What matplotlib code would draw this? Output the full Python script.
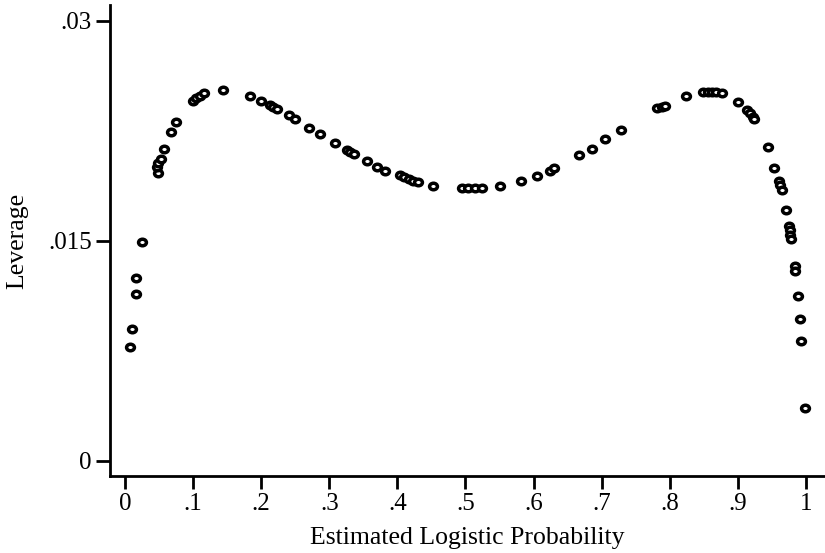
import matplotlib
matplotlib.use("Agg")
import matplotlib.pyplot as plt
from matplotlib.path import Path
from matplotlib.transforms import Affine2D

prob = [0.0254, 0.0166, 0.0162, 0.0098, 0.0069,
        0.048, 0.0474, 0.049, 0.0524, 0.0577, 0.067, 0.0744,
        0.100, 0.105, 0.110, 0.116, 0.1444, 0.1836, 0.1993,
        0.2129, 0.2178, 0.2237, 0.2413, 0.2496, 0.2702, 0.2863, 0.3084,
        0.3264, 0.3304, 0.3363, 0.3549, 0.3696, 0.3818,
        0.4038, 0.4097, 0.4175, 0.4234, 0.4307, 0.4527,
        0.4944, 0.504, 0.514, 0.524, 0.5507, 0.581, 0.6055, 0.624, 0.630,
        0.6671, 0.6853, 0.7048, 0.7283,
        0.7817, 0.788, 0.793, 0.8233, 0.849, 0.8556, 0.8615, 0.8678, 0.8762,
        0.9006, 0.9138, 0.9178, 0.9217, 0.9237,
        0.9447, 0.953, 0.9604, 0.9618, 0.9643, 0.970,
        0.9755, 0.9765, 0.9765, 0.9775, 0.9838, 0.9838,
        0.9877, 0.9912, 0.993, 0.9985]
leverage = [0.01491, 0.01248, 0.01139, 0.00898, 0.00773,
            0.0196, 0.0200, 0.0203, 0.02055, 0.02127, 0.0224, 0.02307,
            0.02452, 0.02471, 0.02487, 0.02505, 0.02527, 0.02489, 0.02452,
            0.02425, 0.02414, 0.02398, 0.02357, 0.0233, 0.02266, 0.02225, 0.02168,
            0.02118, 0.02105, 0.02089, 0.02043, 0.02005, 0.01975,
            0.01948, 0.01932, 0.01919, 0.01909, 0.0190, 0.01875,
            0.01857, 0.01857, 0.01857, 0.01857, 0.01875, 0.01909, 0.01943, 0.01977, 0.01998,
            0.02084, 0.02125, 0.02191, 0.02255,
            0.02403, 0.02414, 0.02418, 0.02487, 0.02516, 0.02516, 0.02516, 0.02516, 0.02505,
            0.02448, 0.02391, 0.02369, 0.02345, 0.0233,
            0.02137, 0.01998, 0.01909, 0.0188, 0.01846, 0.01709,
            0.0160, 0.01573, 0.01539, 0.0151, 0.0133, 0.01296,
            0.01123, 0.00964, 0.00818, 0.00357]

xticks = [0, .1, .2, .3, .4, .5, .6, .7, .8, .9, 1]
xticklabels = ["0", ".1", ".2", ".3", ".4", ".5", ".6", ".7", ".8", ".9", "1"]
yticks = [0, 0.015, 0.03]
yticklabels = ["0", ".015", ".03"]

plt.rcParams['font.family'] = ['Liberation Serif', 'DejaVu Serif']

# slightly wide oval marker, like the reference print
oval = Path.unit_circle().transformed(Affine2D().scale(1.2, 1.0))

fig = plt.figure(figsize=(8.25, 5.53), dpi=100)
ax = fig.add_axes([110/825, 1 - 476/553, 715/825, 471/553])

ax.scatter(prob, leverage, s=32, marker=oval, facecolors='white',
           edgecolors='black', linewidths=2.5, zorder=3)

ax.set_xlim(-0.022, 1.028)
ax.set_ylim(-0.001043, 0.03107)
ax.set_xticks(xticks)
ax.set_xticklabels(xticklabels)
ax.set_yticks(yticks)
ax.set_yticklabels(yticklabels)

for s in ['top', 'right']:
    ax.spines[s].set_visible(False)
for s in ['left', 'bottom']:
    ax.spines[s].set_linewidth(2.0)

ax.tick_params(axis='y', direction='out', length=10, width=2.0,
               labelsize=18, pad=3)
ax.tick_params(axis='x', direction='out', length=9, width=2.0,
               labelsize=18, pad=3)
ax.set_xlabel("Estimated Logistic Probability", fontsize=18.5, labelpad=9)
ax.set_ylabel("Leverage", fontsize=18.5, labelpad=14)

fig.savefig("out.png", dpi=100)
